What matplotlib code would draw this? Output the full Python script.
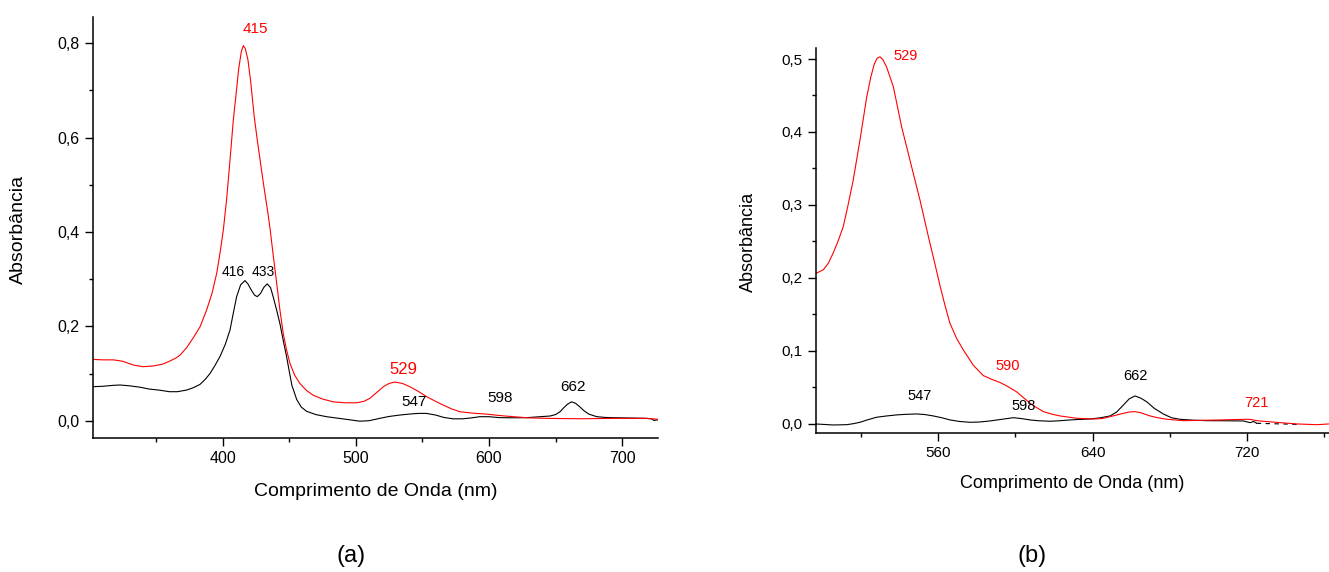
import matplotlib
matplotlib.use("Agg")
import matplotlib.pyplot as plt
from matplotlib.ticker import MultipleLocator, FuncFormatter

plt.rcParams['font.family'] = ['Liberation Sans', 'DejaVu Sans']

# ---------------- panel (a) data ----------------
wl_a_red = [302, 310, 318, 325, 333, 340, 348, 355, 360, 365, 368, 373, 378, 383, 388, 392, 395.5, 398,
            400.5, 403, 405, 408, 410, 412, 414, 415.5, 417, 419, 421, 423.7, 426, 428, 430, 432, 434,
            435.7, 438, 440.6, 443, 445.5, 448, 450.5, 454, 458, 463, 468, 475, 483, 492, 500.6, 506,
            510.6, 515, 520.6, 525, 529.4, 535, 540.7, 547, 553.2, 560, 565.7, 572, 578.2, 588, 598.3,
            608, 618.3, 630, 643.4, 655, 668.4, 680, 693.4, 705, 718.5, 727]
abs_a_red = [0.130, 0.129, 0.129, 0.126, 0.118, 0.1145, 0.116, 0.120, 0.126, 0.133, 0.139, 0.155, 0.176,
             0.199, 0.235, 0.270, 0.312, 0.355, 0.404, 0.47, 0.535, 0.637, 0.69, 0.745, 0.782, 0.795,
             0.789, 0.765, 0.72, 0.645, 0.595, 0.555, 0.515, 0.477, 0.44, 0.405, 0.35, 0.291, 0.235, 0.185,
             0.15, 0.122, 0.097, 0.079, 0.064, 0.054, 0.046, 0.040, 0.038, 0.038, 0.041, 0.0475, 0.058,
             0.072, 0.079, 0.082, 0.079, 0.072, 0.062, 0.051, 0.041, 0.033, 0.025, 0.019, 0.016, 0.014,
             0.011, 0.0085, 0.006, 0.005, 0.0045, 0.0042, 0.0045, 0.005, 0.005, 0.005, 0.003]

wl_a_blk = [302, 310, 318, 323, 330, 338, 345, 352, 360, 366, 373, 378, 383, 387, 390.5, 394, 398, 402,
            405.5, 408, 410.5, 413.5, 416.7, 419, 421.5, 424, 426, 428.5, 431, 433.5, 436, 438, 440.5,
            443, 445.5, 448, 450, 452, 455.6, 459, 463, 470, 478, 490, 503, 510, 518, 525, 533, 540,
            547, 553, 560, 566, 573, 580, 587, 593, 600, 608, 618, 628, 636, 641, 646, 650, 653.4, 656,
            659, 662, 665, 668, 671, 675, 681, 687, 693, 705, 718, 722, 724, 727]
abs_a_blk = [0.072, 0.073, 0.075, 0.0757, 0.074, 0.071, 0.067, 0.065, 0.0615, 0.0615, 0.065, 0.070,
             0.077, 0.088, 0.100, 0.116, 0.136, 0.162, 0.192, 0.228, 0.263, 0.288, 0.297, 0.29, 0.277,
             0.266, 0.263, 0.270, 0.283, 0.290, 0.282, 0.262, 0.235, 0.206, 0.17, 0.136, 0.105, 0.075,
             0.045, 0.029, 0.020, 0.013, 0.0085, 0.004, -0.001, 0.000, 0.005, 0.009, 0.012, 0.014,
             0.0155, 0.0155, 0.012, 0.007, 0.004, 0.004, 0.006, 0.0085, 0.0085, 0.0065, 0.0062, 0.0064,
             0.008, 0.009, 0.010, 0.013, 0.019, 0.027, 0.035, 0.040, 0.037, 0.030, 0.022, 0.014, 0.0085,
             0.007, 0.0064, 0.0058, 0.005, 0.004, 0.0005, 0.002]

labels_a = ["415", "416", "433", "529", "547", "598", "662"]
label_a_x = [424.6, 407.7, 430.3, 535.8, 543.7, 608.3, 663.1]
label_a_y = [0.830, 0.315, 0.315, 0.1096, 0.0396, 0.048, 0.0714]
label_a_col = ["#ff0000", "black", "black", "#ff0000", "black", "black", "black"]
label_a_size = [11, 10, 10, 12, 11, 11, 11]

# ---------------- panel (b) data ----------------
wl_b_red = [496.5, 500.4, 503, 505.5, 508, 510.7, 513, 515.9, 519.4, 522.9, 525, 526.8, 528.3, 529.8,
            531.3, 533.2, 536.7, 541, 545.3, 550.5, 555, 558, 561, 563.5, 566, 569.5, 573, 578.2, 583.3,
            587.5, 592, 596, 600.7, 604, 607.6, 611, 614.5, 619, 623.1, 631.8, 640.4, 645, 649.1, 655,
            659, 662, 665, 669.8, 674, 678.5, 687.1, 695, 704.4, 712, 720, 722, 725.1, 730, 737.2,
            745.9, 756.3, 762.6]
abs_b_red = [0.206, 0.211, 0.220, 0.234, 0.250, 0.270, 0.297, 0.334, 0.389, 0.448, 0.475, 0.493, 0.501,
             0.503, 0.499, 0.489, 0.462, 0.407, 0.3615, 0.3067, 0.255, 0.222, 0.188, 0.162, 0.138, 0.117,
             0.101, 0.080, 0.066, 0.061, 0.0565, 0.051, 0.0435, 0.036, 0.028, 0.022, 0.0165, 0.013,
             0.0106, 0.0074, 0.0064, 0.007, 0.0096, 0.0135, 0.016, 0.0165, 0.015, 0.0106, 0.008, 0.006,
             0.0041, 0.0045, 0.005, 0.0055, 0.006, 0.0058, 0.0041, 0.003, 0.0014, -0.0004, -0.0014,
             -0.0004]

wl_b_blk = [496.5, 505.5, 512.5, 516, 519.4, 523, 528, 533, 538.4, 543, 548.8, 553, 557.4, 562, 566.1,
            571, 576.4, 581, 586.8, 593, 598.9, 603, 607.6, 612, 617.9, 623, 628.3, 633, 638.7, 644,
            649.1, 652.5, 656, 659, 662, 665, 668.1, 672, 676.7, 681, 685.4, 692, 699.2, 708, 718.2,
            721.7, 723.5, 725.1]
abs_b_blk = [-0.0004, -0.0018, -0.0014, 0.000, 0.0019, 0.005, 0.0088, 0.0105, 0.012, 0.0128, 0.0133,
             0.0125, 0.0106, 0.008, 0.0051, 0.003, 0.0019, 0.0022, 0.0037, 0.006, 0.0082, 0.007, 0.0051,
             0.004, 0.0033, 0.004, 0.0051, 0.0058, 0.0064, 0.008, 0.0106, 0.016, 0.0256, 0.034, 0.038,
             0.035, 0.030, 0.021, 0.0133, 0.008, 0.006, 0.0048, 0.0041, 0.004, 0.0037, 0.0014, 0.003,
             0.0005]
wl_b_blk_tail = [725.1, 732, 740, 746]
abs_b_blk_tail = [0.0005, 0.0, -0.0005, -0.001]

labels_b = ["529", "590", "721", "547", "598", "662"]
label_b_x = [543.2, 595.9, 725.1, 550.1, 604.3, 662.2]
label_b_y = [0.504, 0.0794, 0.029, 0.0383, 0.0245, 0.0657]
label_b_col = ["#ff0000", "#ff0000", "#ff0000", "black", "black", "black"]
label_b_size = [10.5, 10.5, 10.5, 10.5, 10.5, 10.5]

comma = FuncFormatter(lambda v, p: f"{v:.1f}".replace(".", ","))

fig = plt.figure(figsize=(13.29, 5.72), dpi=100)
ax1 = fig.add_axes([0.06975, 0.2348, 0.4256, 0.7355])
ax2 = fig.add_axes([0.614, 0.2425, 0.386, 0.6741])

def style(ax, fs_tick):
    for s in ("top", "right"):
        ax.spines[s].set_visible(False)
    for s in ("left", "bottom"):
        ax.spines[s].set_linewidth(1.1)
    ax.tick_params(which="major", direction="out", length=5.5, width=1.0, labelsize=fs_tick, pad=4)
    ax.tick_params(which="minor", direction="out", length=3.2, width=1.0)
    ax.yaxis.set_major_formatter(comma)

# panel (a)
ax1.plot(wl_a_blk, abs_a_blk, color="black", lw=0.8)
ax1.plot(wl_a_red, abs_a_red, color="#ff0000", lw=0.8)
ax1.set_xlim(302.4, 727.2)
ax1.set_ylim(-0.036, 0.8558)
ax1.xaxis.set_major_locator(MultipleLocator(100))
ax1.xaxis.set_minor_locator(MultipleLocator(50))
ax1.yaxis.set_major_locator(MultipleLocator(0.2))
ax1.yaxis.set_minor_locator(MultipleLocator(0.1))
style(ax1, 11.5)
ax1.set_xlabel("Comprimento de Onda (nm)", fontsize=14)
ax1.set_ylabel("Absorbância", fontsize=14)
ax1.xaxis.set_label_coords(0.5, -0.129)
ax1.xaxis.label.set_va("center")
ax1.yaxis.set_label_coords(-0.1315, 0.496)
ax1.yaxis.label.set_va("center")
for t, x, y, c, s in zip(labels_a, label_a_x, label_a_y, label_a_col, label_a_size):
    ax1.text(x, y, t, color=c, fontsize=s, ha="center", va="center")

# panel (b)
ax2.plot(wl_b_blk, abs_b_blk, color="black", lw=0.8)
ax2.plot(wl_b_blk_tail, abs_b_blk_tail, color="black", lw=0.8, ls=(0, (4, 4)))
ax2.plot(wl_b_red, abs_b_red, color="#ff0000", lw=0.8)
ax2.set_xlim(496.6, 762.6)
ax2.set_ylim(-0.0132, 0.5155)
ax2.xaxis.set_major_locator(MultipleLocator(80))
ax2.xaxis.set_minor_locator(MultipleLocator(40))
ax2.yaxis.set_major_locator(MultipleLocator(0.1))
ax2.yaxis.set_minor_locator(MultipleLocator(0.05))
style(ax2, 11)
ax2.set_xlabel("Comprimento de Onda (nm)", fontsize=13)
ax2.set_ylabel("Absorbância", fontsize=13)
ax2.xaxis.set_label_coords(0.5, -0.130)
ax2.xaxis.label.set_va("center")
ax2.yaxis.set_label_coords(-0.132, 0.495)
ax2.yaxis.label.set_va("center")
for t, x, y, c, s in zip(labels_b, label_b_x, label_b_y, label_b_col, label_b_size):
    ax2.text(x, y, t, color=c, fontsize=s, ha="center", va="center")

fig.text(350.6 / 1329, 1 - 555.7 / 572, "(a)", fontsize=17, ha="center", va="center")
fig.text(1032.4 / 1329, 1 - 555.7 / 572, "(b)", fontsize=17, ha="center", va="center")

fig.savefig("out.png", dpi=100)
